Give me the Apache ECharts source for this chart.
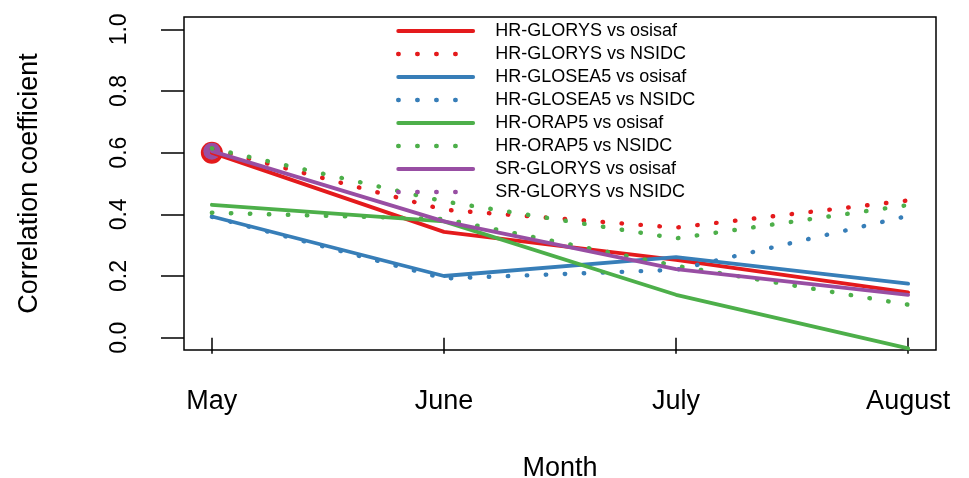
<!DOCTYPE html>
<html>
<head>
<meta charset="utf-8">
<script src="https://cdn.jsdelivr.net/npm/echarts@6/dist/echarts.min.js"></script>
<style>
html,body{margin:0;padding:0;background:#fff;}
#chart{width:969px;height:478px;}
</style>
</head>
<body>
<div id="chart"></div>
<script>
// ---- data ----
var months = ['May', 'June', 'July', 'August'];
var monthPos = [1, 2, 3, 4];
var yTicks = [0.0, 0.2, 0.4, 0.6, 0.8, 1.0];

var seriesNames = [
  'HR-GLORYS vs osisaf',
  'HR-GLORYS vs NSIDC',
  'HR-GLOSEA5 vs osisaf',
  'HR-GLOSEA5 vs NSIDC',
  'HR-ORAP5 vs osisaf',
  'HR-ORAP5 vs NSIDC',
  'SR-GLORYS vs osisaf',
  'SR-GLORYS vs NSIDC'
];
var hrGlorysOsisaf  = [0.600, 0.343, 0.252, 0.147];
var hrGlorysNsidc   = [0.612, 0.415, 0.357, 0.445];
var hrGlosea5Osisaf = [0.393, 0.200, 0.261, 0.175];
var hrGlosea5Nsidc  = [0.392, 0.192, 0.220, 0.395];
var hrOrap5Osisaf   = [0.431, 0.377, 0.139, -0.035];
var hrOrap5Nsidc    = [0.405, 0.385, 0.233, 0.107];
var srGlorysOsisaf  = [0.605, 0.377, 0.222, 0.139];
var srGlorysNsidc   = [0.614, 0.442, 0.322, 0.430];

// ---- style ----
var RED = '#E41A1C', BLUE = '#377EB8', GREEN = '#4DAF4A', PURPLE = '#984EA3';
var FONT = 'Liberation Sans, Arial, Helvetica, sans-serif';
var DOTS = [0.5, 18.5];
var SOLID_W = 3.8, DOT_W = 4.4;

// line colour / dotted flag per series (last one drawn green in the reference)
var lineColors = [RED, RED, BLUE, BLUE, GREEN, GREEN, PURPLE, GREEN];
var keyColors  = [RED, RED, BLUE, BLUE, GREEN, GREEN, PURPLE, PURPLE];
var dottedFlags = [false, true, false, true, false, true, false, true];
var seriesValues = [hrGlorysOsisaf, hrGlorysNsidc, hrGlosea5Osisaf, hrGlosea5Nsidc,
                    hrOrap5Osisaf, hrOrap5Nsidc, srGlorysOsisaf, srGlorysNsidc];

function pts(vals) {
  return vals.map(function (v, i) { return [monthPos[i], v]; });
}
function lineStyleFor(color, dotted) {
  return {
    color: color,
    width: dotted ? DOT_W : SOLID_W,
    type: dotted ? DOTS : 'solid',
    cap: 'round',
    join: 'round',
    opacity: 1
  };
}
function lineSeries(i) {
  return {
    name: seriesNames[i],
    type: 'line',
    data: pts(seriesValues[i]),
    symbol: 'none',
    silent: true,
    lineStyle: lineStyleFor(lineColors[i], dottedFlags[i]),
    itemStyle: { color: lineColors[i] },
    z: 3
  };
}

var chart = echarts.init(document.getElementById('chart'), null, { renderer: 'canvas' });

var legendData = seriesNames.map(function (n, i) {
  return { name: n, lineStyle: lineStyleFor(keyColors[i], dottedFlags[i]) };
});

var option = {
  animation: false,
  backgroundColor: '#ffffff',
  grid: {
    left: 184, right: 33, top: 17, bottom: 128,
    outerBoundsMode: 'none',
    containLabel: false,
    show: true, borderColor: '#000', borderWidth: 1.5, backgroundColor: 'transparent'
  },
  legend: {
    data: legendData,
    orient: 'vertical',
    left: 396,
    top: 22,
    padding: 0,
    itemWidth: 75,
    itemHeight: 14,
    itemGap: 5,
    itemStyle: { opacity: 0, borderWidth: 0 },
    textStyle: { fontFamily: FONT, fontSize: 18, color: '#000', padding: [0, 0, 0, 17] },
    selectedMode: false
  },
  xAxis: {
    type: 'value',
    min: 0.88, max: 4.12,
    name: 'Month',
    nameLocation: 'middle',
    nameGap: 105,
    nameTextStyle: { fontFamily: FONT, fontSize: 27, color: '#000' },
    axisLine: { show: false },
    splitLine: { show: false },
    axisTick: { show: true, customValues: monthPos, length: 16, lineStyle: { color: '#000', width: 1.5 } },
    axisLabel: {
      customValues: monthPos,
      margin: 38,
      fontFamily: FONT, fontSize: 27, color: '#000',
      formatter: function (v) { return months[Math.round(v) - 1]; }
    }
  },
  yAxis: {
    type: 'value',
    min: -0.04, max: 1.04,
    name: 'Correlation coefficient',
    nameLocation: 'middle',
    nameGap: 141,
    nameTextStyle: { fontFamily: FONT, fontSize: 27, color: '#000' },
    axisLine: { show: false },
    splitLine: { show: false },
    axisTick: { show: true, customValues: yTicks, length: 23, lineStyle: { color: '#000', width: 1.5 } },
    axisLabel: {
      customValues: yTicks,
      rotate: 90,
      margin: 53,
      fontFamily: FONT, fontSize: 23, color: '#000',
      formatter: function (v) { return v.toFixed(1); }
    }
  },
  series: [
    {
      name: 'May marker HR-GLORYS', type: 'scatter', silent: true,
      data: [[monthPos[0], hrGlorysOsisaf[0]]], symbol: 'circle', symbolSize: 22,
      itemStyle: { color: RED, opacity: 1 }, z: 2
    },
    {
      name: 'May marker SR-GLORYS', type: 'scatter', silent: true,
      data: [[monthPos[0], srGlorysOsisaf[0]]], symbol: 'circle', symbolSize: 17,
      itemStyle: { color: PURPLE, opacity: 1 }, z: 2
    }
  ].concat(seriesNames.map(function (n, i) { return lineSeries(i); }))
};
chart.setOption(option);
</script>
</body>
</html>
